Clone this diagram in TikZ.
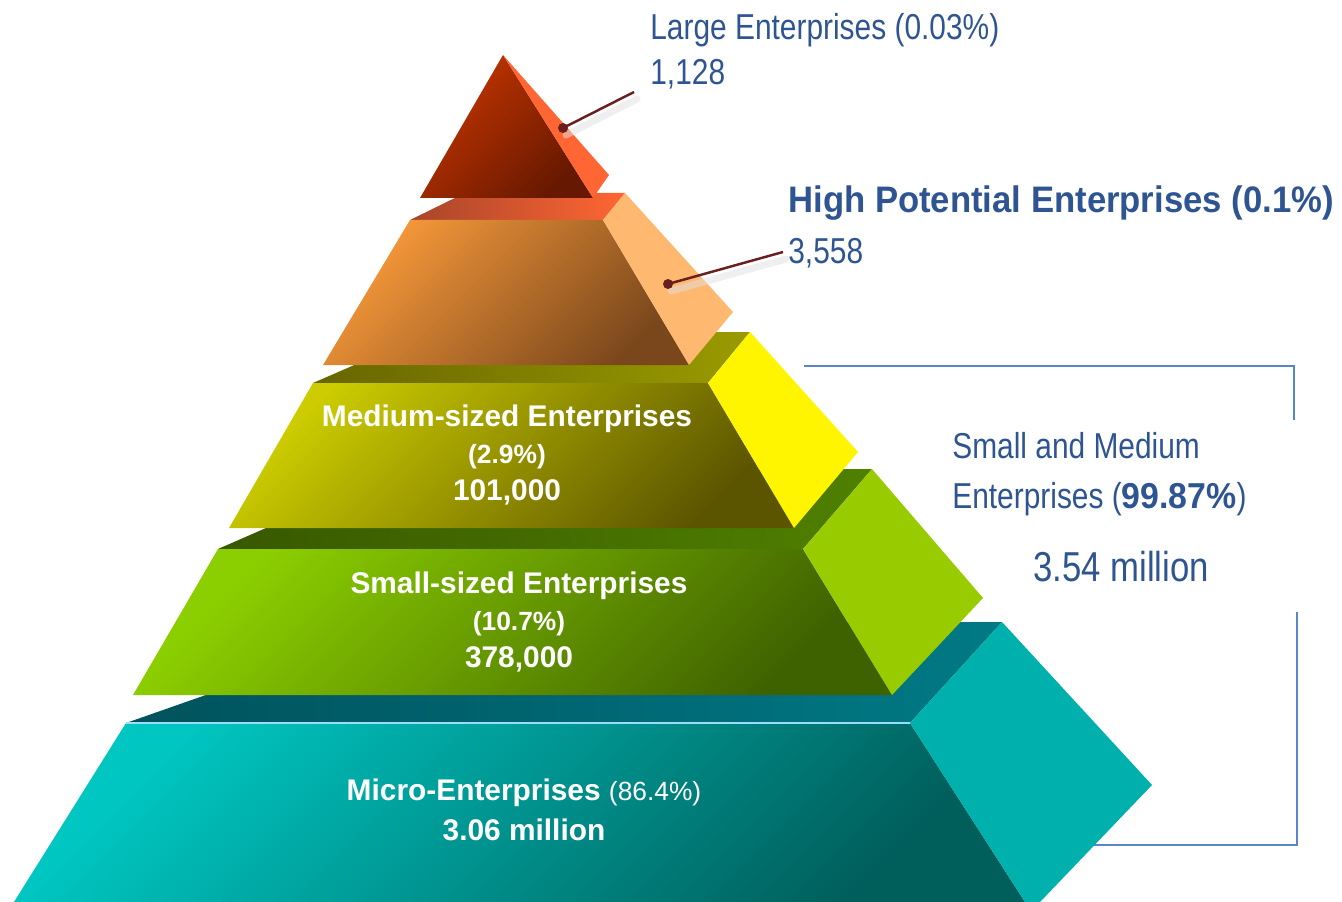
\documentclass[tikz,border=0pt]{standalone}
\usepackage{fontspec}
\setmainfont{Liberation Sans}
\newfontfamily\thinfont[FakeStretch=0.83]{Liberation Sans}
\newfontfamily\widefont[FakeStretch=0.94]{Liberation Sans}
\usetikzlibrary{calc}

\definecolor{labblue}{HTML}{2E5591}
\definecolor{brblue}{HTML}{5A86C5}
\definecolor{leadred}{HTML}{6B1E1E}
% tier colours
\definecolor{largeA}{HTML}{C43500}
\definecolor{largeB}{HTML}{661800}
\definecolor{largeS}{HTML}{FF6633}
\definecolor{hpA}{HTML}{F7993A}
\definecolor{hpB}{HTML}{7A471C}
\definecolor{hpS}{HTML}{FFB870}
\definecolor{hpT}{HTML}{A8452A}
\definecolor{hpU}{HTML}{FF6633}
\definecolor{medA}{HTML}{CCCC00}
\definecolor{medB}{HTML}{5C5500}
\definecolor{medS}{HTML}{FFF500}
\definecolor{medT}{HTML}{666600}
\definecolor{medU}{HTML}{9A9A00}
\definecolor{smaA}{HTML}{8CCF00}
\definecolor{smaB}{HTML}{3F6200}
\definecolor{smaS}{HTML}{99CC00}
\definecolor{smaT}{HTML}{385800}
\definecolor{smaU}{HTML}{4F8000}
\definecolor{micA}{HTML}{00C6C1}
\definecolor{micB}{HTML}{005E5B}
\definecolor{micS}{HTML}{00B0AD}
\definecolor{micT}{HTML}{00525C}
\definecolor{micU}{HTML}{007A86}

\begin{document}
\begin{tikzpicture}[x=0.02cm,y=-0.02cm,
  front/.style 2 args={left color=#1,right color=#2,shading angle=45},
  shelf/.style 2 args={left color=#1,right color=#2},
  lab/.style={text=labblue,inner sep=0pt,align=left,font=\thinfont\fontsize{20.5}{25.5}\selectfont},
  tiertext/.style={text=white,inner sep=0pt,align=center,font=\bfseries\fontsize{17}{21}\selectfont},
  leader/.style={draw=leadred,line width=1.4pt},
  bracket/.style={draw=brblue,line width=1pt}]
\useasboundingbox (0,0) rectangle (1342,902);
% Bracket round the small and medium tiers
\draw[bracket] (804,366) -- (1294,366) -- (1294,420);
\draw[bracket] (1297,612) -- (1297,845) -- (1060,845);
% Micro tier
\shade[shelf={micT}{micU}] (126,723) -- (910,723) -- (1002,622) -- (414,622) -- cycle;
\shade[front={micA}{micB}] (126,723) -- (910,723) -- (1025,902) -- (14,902) -- cycle;
\fill[micS] (910,723) -- (1002,622) -- (1152,785) -- (1040,902) -- (1025,902) -- cycle;
\draw[cyan!40,line width=0.6pt] (126,723) -- (910,723);
% Small tier
\shade[shelf={smaT}{smaU}] (218,549) -- (803,549) -- (872,469) -- (401,469) -- cycle;
\shade[front={smaA}{smaB}] (218,549) -- (803,549) -- (892,695) -- (133,695) -- cycle;
\fill[smaS] (803,549) -- (872,469) -- (983,598) -- (892,695) -- cycle;
% Medium tier
\shade[shelf={medT}{medU}] (313,383) -- (708,383) -- (750,332) -- (430,332) -- cycle;
\shade[front={medA}{medB}] (313,383) -- (708,383) -- (794,528) -- (229,528) -- cycle;
\fill[medS] (708,383) -- (750,332) -- (858,452) -- (794,528) -- cycle;
% High potential tier
\shade[shelf={hpT}{hpU}] (410,220) -- (603,220) -- (625,193) -- (465,193) -- cycle;
\shade[front={hpA}{hpB}] (410,220) -- (603,220) -- (689,365) -- (323,365) -- cycle;
\fill[hpS] (603,220) -- (625,193) -- (733,312) -- (689,365) -- cycle;
% Large tier
\shade[front={largeA}{largeB}] (503,55) -- (593,198) -- (420,198) -- cycle;
\fill[largeS] (503,55) -- (609,175) -- (593,198) -- cycle;
% Texts on the tiers
\node[tiertext] (medlab) at (507,455) {Medium-sized Enterprises\\{\fontsize{15}{21}\selectfont(2.9\%)}\\101,000};
\node[tiertext] (smalab) at (519,622) {Small-sized Enterprises\\{\fontsize{15}{21}\selectfont(10.7\%)}\\378,000};
\node[tiertext,font=\bfseries\fontsize{17}{22.5}\selectfont] (miclab) at (524,810) {Micro-Enterprises {\mdseries\fontsize{15}{21}\selectfont(86.4\%)}\\3.06 million};
% Labels beside the pyramid
\node[lab,anchor=north west] (largelab) at (650,13) {Large Enterprises (0.03\%)\\1,128};
\node[lab,anchor=north west] (hplab) at (788,185) {{\widefont\bfseries\fontsize{21}{25.5}\selectfont High Potential Enterprises (0.1\%)}\\[4pt]3,558};
\node[lab,anchor=north west,font=\thinfont\fontsize{20.5}{28.4}\selectfont] (smelab) at (952,432) {Small and Medium\\Enterprises ({\widefont\bfseries 99.87\%})};
\node[lab,anchor=base west,font=\thinfont\fontsize{23.8}{28}\selectfont] (smenum) at (1033,581) {3.54 million};
% Leader lines
\coordinate (largedot) at (563,128);
\coordinate (largeend) at (634,92);
\coordinate (hpdot) at (668,284);
\coordinate (hpend) at (783,252);
\draw[black!12,line width=4pt,opacity=0.5,line cap=round] ($(largedot)+(3,7)$) -- ($(largeend)+(3,7)$);
\draw[black!12,line width=4pt,opacity=0.5,line cap=round] ($(hpdot)+(3,7)$) -- ($(hpend)+(3,7)$);
\draw[leader] (largedot) -- (largeend);
\draw[leader] (hpdot) -- (hpend);
\fill[leadred] (largedot) circle (5);
\fill[leadred] (hpdot) circle (5);
\end{tikzpicture}
\end{document}
